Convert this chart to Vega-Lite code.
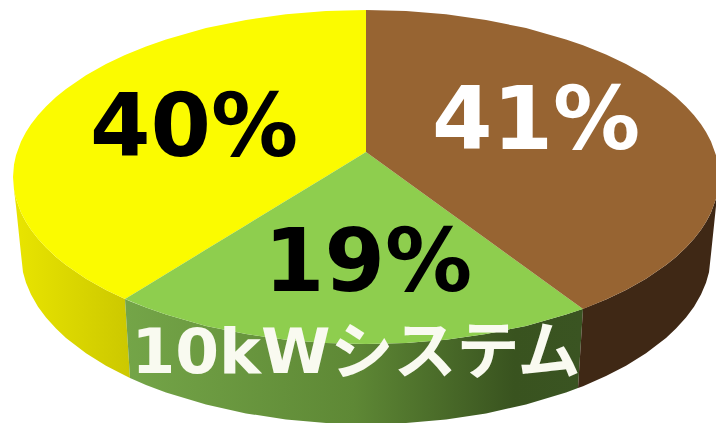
{
  "$schema": "https://vega.github.io/schema/vega-lite/v6.json",
  "width": 716,
  "height": 423,
  "padding": 0,
  "autosize": "none",
  "background": "#ffffff",
  "config": {"view": {"stroke": null}},
  "datasets": {
    "walls": [
      {"slice":"yellow","x":-353,"y":-25,"y2":-25},{"slice":"yellow","x":-352,"y":-37.6,"y2":-38},{"slice":"yellow","x":-350,"y":-46.7,"y2":-54},{"slice":"yellow","x":-345,"y":-60.4,"y2":-102},{"slice":"yellow","x":-343,"y":-64.4,"y2":-120.3},{"slice":"yellow","x":-340,"y":-69.9,"y2":-130.8},{"slice":"yellow","x":-335,"y":-77.7,"y2":-142.6},{"slice":"yellow","x":-328,"y":-86.7,"y2":-154.7},{"slice":"yellow","x":-320,"y":-95.5,"y2":-165.5},{"slice":"yellow","x":-310,"y":-104.9,"y2":-176.6},{"slice":"yellow","x":-300,"y":-113,"y2":-186},{"slice":"yellow","x":-280,"y":-126.7,"y2":-201.3},{"slice":"yellow","x":-260,"y":-138,"y2":-213.7},{"slice":"yellow","x":-241,"y":-147,"y2":-223.6},{"slice":"yellow","x":-236,"y":-226,"y2":-226},
      {"slice":"green","x":-241,"y":-147,"y2":-147},{"slice":"green","x":-236,"y":-149.2,"y2":-226},{"slice":"green","x":-220,"y":-155.6,"y2":-232.9},{"slice":"green","x":-200,"y":-162.6,"y2":-240.5},{"slice":"green","x":-160,"y":-173.9,"y2":-252.6},{"slice":"green","x":-120,"y":-182,"y2":-261.4},{"slice":"green","x":-80,"y":-187.7,"y2":-267.4},{"slice":"green","x":-40,"y":-191,"y2":-270.9},{"slice":"green","x":0,"y":-192,"y2":-272},{"slice":"green","x":40,"y":-191,"y2":-270.9},{"slice":"green","x":80,"y":-187.7,"y2":-267.4},{"slice":"green","x":120,"y":-182,"y2":-261.4},{"slice":"green","x":160,"y":-173.9,"y2":-252.6},{"slice":"green","x":200,"y":-162.6,"y2":-240.5},{"slice":"green","x":212,"y":-158.5,"y2":-236.1},{"slice":"green","x":217,"y":-156.7,"y2":-156.7},
      {"slice":"brown","x":212,"y":-236.1,"y2":-236.1},{"slice":"brown","x":217,"y":-156.7,"y2":-234.2},{"slice":"brown","x":240,"y":-147.5,"y2":-224.1},{"slice":"brown","x":260,"y":-138,"y2":-213.7},{"slice":"brown","x":280,"y":-126.7,"y2":-201.3},{"slice":"brown","x":300,"y":-113,"y2":-186},{"slice":"brown","x":310,"y":-104.9,"y2":-176.6},{"slice":"brown","x":320,"y":-95.5,"y2":-165.5},{"slice":"brown","x":328,"y":-86.7,"y2":-154.7},{"slice":"brown","x":335,"y":-77.7,"y2":-142.6},{"slice":"brown","x":340,"y":-69.9,"y2":-130.8},{"slice":"brown","x":343,"y":-64.4,"y2":-120.3},{"slice":"brown","x":345,"y":-60.4,"y2":-102},{"slice":"brown","x":350,"y":-46.7,"y2":-54},{"slice":"brown","x":352,"y":-37.6,"y2":-38},{"slice":"brown","x":353,"y":-25,"y2":-25}
    ],
    "faces": [
      {"slice":"yellow","x":-353,"y":-25,"y2":-25},{"slice":"yellow","x":-352,"y":-12.4,"y2":-37.6},{"slice":"yellow","x":-350,"y":-3.3,"y2":-46.7},{"slice":"yellow","x":-345,"y":10.4,"y2":-60.4},{"slice":"yellow","x":-340,"y":19.9,"y2":-69.9},{"slice":"yellow","x":-335,"y":27.7,"y2":-77.7},{"slice":"yellow","x":-328,"y":36.7,"y2":-86.7},{"slice":"yellow","x":-320,"y":45.5,"y2":-95.5},{"slice":"yellow","x":-310,"y":54.9,"y2":-104.9},{"slice":"yellow","x":-300,"y":63,"y2":-113},{"slice":"yellow","x":-280,"y":76.7,"y2":-126.7},{"slice":"yellow","x":-260,"y":88,"y2":-138},{"slice":"yellow","x":-241,"y":97,"y2":-147},{"slice":"yellow","x":-220,"y":105.6,"y2":-134.2},{"slice":"yellow","x":-200,"y":112.6,"y2":-122},{"slice":"yellow","x":-160,"y":123.9,"y2":-97.6},{"slice":"yellow","x":-120,"y":132,"y2":-73.2},{"slice":"yellow","x":-80,"y":137.7,"y2":-48.8},{"slice":"yellow","x":-40,"y":140.9,"y2":-24.4},{"slice":"yellow","x":0,"y":142,"y2":0},
      {"slice":"green","x":-241,"y":-147,"y2":-147},{"slice":"green","x":-220,"y":-134.2,"y2":-155.6},{"slice":"green","x":-200,"y":-122,"y2":-162.6},{"slice":"green","x":-160,"y":-97.6,"y2":-173.9},{"slice":"green","x":-120,"y":-73.2,"y2":-182},{"slice":"green","x":-80,"y":-48.8,"y2":-187.7},{"slice":"green","x":-40,"y":-24.4,"y2":-191},{"slice":"green","x":0,"y":0,"y2":-192},{"slice":"green","x":40,"y":-28.9,"y2":-191},{"slice":"green","x":80,"y":-57.9,"y2":-187.7},{"slice":"green","x":120,"y":-86.8,"y2":-182},{"slice":"green","x":160,"y":-115.8,"y2":-173.9},{"slice":"green","x":200,"y":-144.7,"y2":-162.6},{"slice":"green","x":217,"y":-157,"y2":-157},
      {"slice":"brown","x":0,"y":142,"y2":0},{"slice":"brown","x":40,"y":140.9,"y2":-28.9},{"slice":"brown","x":80,"y":137.7,"y2":-57.9},{"slice":"brown","x":120,"y":132,"y2":-86.8},{"slice":"brown","x":160,"y":123.9,"y2":-115.8},{"slice":"brown","x":200,"y":112.6,"y2":-144.7},{"slice":"brown","x":217,"y":106.7,"y2":-157},{"slice":"brown","x":240,"y":97.5,"y2":-147.5},{"slice":"brown","x":260,"y":88,"y2":-138},{"slice":"brown","x":280,"y":76.7,"y2":-126.7},{"slice":"brown","x":300,"y":63,"y2":-113},{"slice":"brown","x":310,"y":54.9,"y2":-104.9},{"slice":"brown","x":320,"y":45.5,"y2":-95.5},{"slice":"brown","x":328,"y":36.7,"y2":-86.7},{"slice":"brown","x":335,"y":27.7,"y2":-77.7},{"slice":"brown","x":340,"y":19.9,"y2":-69.9},{"slice":"brown","x":345,"y":10.4,"y2":-60.4},{"slice":"brown","x":350,"y":-3.3,"y2":-46.7},{"slice":"brown","x":352,"y":-12.4,"y2":-37.6},{"slice":"brown","x":353,"y":-25,"y2":-25}
    ],
    "shares": [
      {"slice":"yellow","share":0.40,"x":-172,"y":-4},
      {"slice":"brown","share":0.41,"x":170,"y":3},
      {"slice":"green","share":0.19,"x":2,"y":-139}
    ],
    "captions": [
      {"caption":"10kWシステム","x":-10,"y":-221}
    ]
  },
  "encoding": {
    "x": {"field":"x","type":"quantitative","axis":null,"scale":{"domain":[-366,350],"nice":false,"zero":false}},
    "y": {"field":"y","type":"quantitative","axis":null,"stack":null,"scale":{"domain":[-271,152],"nice":false,"zero":false}}
  },
  "layer": [
    {
      "data": {"name":"walls"},
      "transform": [{"filter":"datum.slice === 'yellow'"}],
      "mark": {"type":"area","clip":true,"color":{"gradient":"linear","x1":0,"y1":0,"x2":1,"y2":0,"stops":[{"offset":0,"color":"#E9E500"},{"offset":1,"color":"#CCC800"}]}},
      "encoding": {"y2":{"field":"y2"}}
    },
    {
      "data": {"name":"walls"},
      "transform": [{"filter":"datum.slice === 'green'"}],
      "mark": {"type":"area","clip":true,"color":{"gradient":"linear","x1":0,"y1":0,"x2":1,"y2":0,"stops":[{"offset":0,"color":"#74A548"},{"offset":0.5,"color":"#5E8835"},{"offset":0.85,"color":"#39531F"},{"offset":1,"color":"#3A5422"}]}},
      "encoding": {"y2":{"field":"y2"}}
    },
    {
      "data": {"name":"walls"},
      "transform": [{"filter":"datum.slice === 'brown'"}],
      "mark": {"type":"area","clip":true,"color":"#3F2815"},
      "encoding": {"y2":{"field":"y2"}}
    },
    {
      "data": {"name":"faces"},
      "mark": {"type":"area","clip":true},
      "encoding": {
        "y2": {"field":"y2"},
        "color": {"field":"slice","type":"nominal","legend":null,"scale":{"domain":["yellow","green","brown"],"range":["#FBFB00","#8ECE4E","#976432"]}}
      }
    },
    {
      "data": {"name":"shares"},
      "mark": {"type":"text","font":"DejaVu Sans","fontWeight":"bold","fontSize":87,"align":"center","baseline":"alphabetic"},
      "encoding": {
        "text": {"field":"share","type":"quantitative","format":".0%"},
        "color": {"field":"slice","type":"nominal","legend":null,"scale":{"domain":["yellow","green","brown"],"range":["#000000","#000000","#FFFFFF"]}}
      }
    },
    {
      "data": {"name":"captions"},
      "mark": {"type":"text","font":"DejaVu Sans, Noto Sans CJK JP","fontWeight":"bold","fontSize":63,"align":"center","baseline":"alphabetic","color":"#F9FAF0"},
      "encoding": {"text":{"field":"caption","type":"nominal"}}
    }
  ],
  "resolve": {"scale":{"color":"independent"}}
}
